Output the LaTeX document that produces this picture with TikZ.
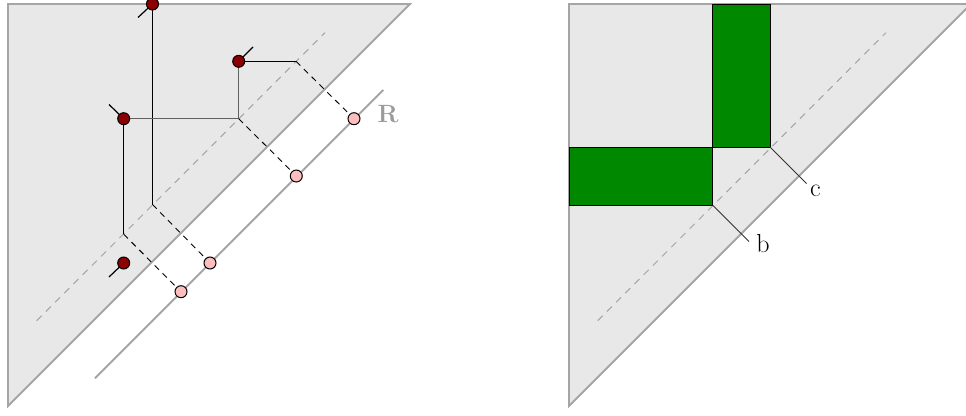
\documentclass[tikz,border=0pt]{standalone}
\usepackage{fontspec}
\definecolor{trifill}{RGB}{232,232,232}
\definecolor{tridraw}{RGB}{165,165,165}
\definecolor{dotred}{RGB}{139,0,0}
\definecolor{dotpink}{RGB}{255,190,190}
\definecolor{boxgreen}{RGB}{0,137,0}
\definecolor{rgray}{RGB}{155,155,155}
\begin{document}
\begin{tikzpicture}[x=1pt,y=-1pt,
  tri/.style={draw=tridraw, fill=trifill, line width=1.9pt, line join=miter},
  rline/.style={draw=tridraw, line width=1.9pt},
  diag/.style={draw=tridraw, line width=1pt, dash pattern=on 7pt off 6pt},
  proj/.style={draw=black, line width=0.9pt, dash pattern=on 6pt off 5pt},
  bar/.style={draw=black, line width=1pt},
  greybar/.style={draw=black!62, line width=1.4pt},
  tick/.style={draw=black, line width=1.2pt},
  reddot/.style={circle, draw=black, fill=dotred, line width=1pt, minimum size=12pt, inner sep=0pt},
  pinkdot/.style={circle, draw=black, fill=dotpink, line width=1pt, minimum size=12pt, inner sep=0pt},
  gbox/.style={draw=black, fill=boxgreen, line width=0.9pt},
  lbl/.style={font=\fontsize{26}{30}\selectfont, inner sep=0pt},
  lead/.style={draw=black!80, line width=0.9pt}
]
\useasboundingbox (0,0) rectangle (966,415);

% ---------------- left panel ----------------
\path[tri] (8,4) -- (410,4) -- (8,406) -- cycle;
\path[diag] (36.7,320.7) -- (325,32.7);
\coordinate (rA) at (95,378.3);
\coordinate (rB) at (383.3,90);
\path[rline] (rA) -- (rB);
\node[font=\fontsize{25}{28}\selectfont\bfseries, text=rgray, anchor=base, inner sep=0pt] (R) at (388,122.7) {R};

% diagonal corner points
\coordinate (k1) at (296,61.3);
\coordinate (k2) at (238.7,118.7);
\coordinate (k3) at (152.5,204.5);
\coordinate (k4) at (123.7,234.3);

% tick ends
\coordinate (t1) at (138,17.5);
\coordinate (t2) at (253,47);
\coordinate (t3) at (109,104.5);
\coordinate (t4) at (109,277);

% red dots (positions)
\coordinate (p1) at (152.5,4);
\coordinate (p2) at (238.7,61.3);
\coordinate (p3) at (123.7,118.7);
\coordinate (p4) at (123.7,263);

% pink dots positions
\coordinate (q1) at (354,118.7);
\coordinate (q2) at (296.3,176);
\coordinate (q3) at (210,263);
\coordinate (q4) at (181,291.7);

% bars
\path[bar] (p1) -- (k3);
\path[greybar] (p3) -- (k2);
\path[greybar] (p2) -- (k2);
\path[bar] (p2) -- (k1);
\path[bar] (p3) -- (k4);

% projections
\path[proj] (k1) -- (q1);
\path[proj] (k2) -- (q2);
\path[proj] (k3) -- (q3);
\path[proj] (k4) -- (q4);

% ticks
\path[tick] (p1) -- (t1);
\path[tick] (p2) -- (t2);
\path[tick] (p3) -- (t3);
\path[tick] (p4) -- (t4);

\node[reddot] (d1) at (p1) {};
\node[reddot] (d2) at (p2) {};
\node[reddot] (d3) at (p3) {};
\node[reddot] (d4) at (p4) {};

\node[pinkdot] (e1) at (q1) {};
\node[pinkdot] (e2) at (q2) {};
\node[pinkdot] (e3) at (q3) {};
\node[pinkdot] (e4) at (q4) {};

% ---------------- right panel ----------------
\path[tri] (569,4) -- (971,4) -- (569,406) -- cycle;
\path[diag] (597.7,320.7) -- (886,32.7);
\path[gbox] (712.7,4) rectangle (770.3,147.3);
\path[gbox] (569,147.3) rectangle (712.7,205.3);
\coordinate (kc) at (770.3,147.3);
\coordinate (kb) at (712.7,205.3);
\coordinate (ec) at (806.5,183.5);
\coordinate (eb) at (749,241.5);
\path[lead] (kc) -- (ec);
\path[lead] (kb) -- (eb);
\node[lbl, anchor=base] (c) at (815.5,196.7) {c};
\node[lbl, anchor=base] (b) at (763,252.7) {b};
\end{tikzpicture}
\end{document}
